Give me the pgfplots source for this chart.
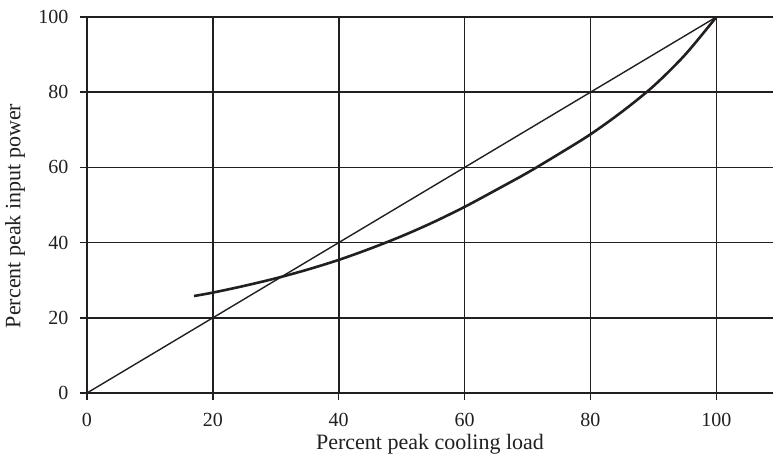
\documentclass[border=0pt]{standalone}
\usepackage{fontspec}
\setmainfont{Liberation Serif}
\usepackage{pgfplots}
\pgfplotsset{compat=1.18}
\definecolor{ink}{HTML}{231F20}
\begin{document}
\begin{tikzpicture}
\begin{axis}[
    scale only axis,
    width=686bp, height=376bp,
    xmin=0, xmax=109,
    ymin=0, ymax=100,
    axis x line=bottom,
    axis y line=left,
    axis line style={-, ink, line width=1.4bp},
    xtick={0,20,...,100},
    ytick={0,20,...,100},
    tick align=outside,
    major tick length=7bp,
    tick style={ink, line width=1.4bp},
    grid=major,
    major grid style={ink, line width=1.6bp},
    /pgf/number format/assume math mode=true,
    tick label style={font=\fontsize{20bp}{24bp}\selectfont, text=ink},
    xticklabel style={yshift=-10bp},
    yticklabel style={xshift=-8bp},
    label style={font=\fontsize{22bp}{26bp}\selectfont, text=ink},
    xlabel={Percent peak cooling load},
    ylabel={Percent peak input power},
    xlabel style={at={(axis description cs:0.5,-0.149)}, anchor=base},
    ylabel style={at={(axis description cs:-0.105,0.471)}, anchor=center},
    clip=false,
]
% straight line: equal percent power and load
\addplot[ink, line width=1.4bp] coordinates {(0,0) (100,100)};
% part-load input power curve
\addplot[ink, line width=2.6bp, smooth, tension=0.5] coordinates {
    (17,25.8) (20,26.7) (25,28.5) (30,30.5) (35,32.8) (40,35.4)
    (45,38.4) (50,41.7) (55,45.4) (60,49.5) (65,54.0) (70,58.6)
    (75,63.6) (80,68.8) (85,74.8) (90,81.6) (95,89.9) (100,100)
};
\end{axis}
\pgfresetboundingbox
\path (-87bp,-63bp) rectangle (686bp,393bp);
\end{tikzpicture}
\end{document}
